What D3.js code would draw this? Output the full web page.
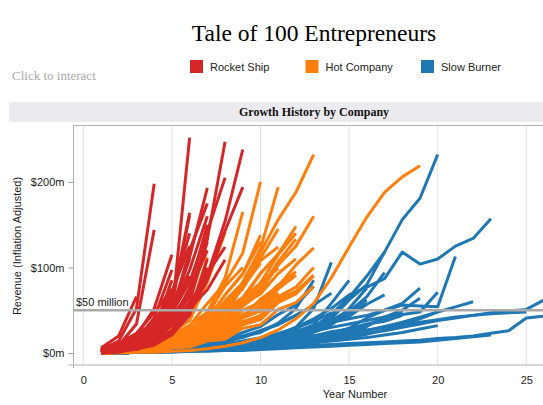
<!DOCTYPE html>
<html lang="en">
<head>
<meta charset="utf-8">
<title>Tale of 100 Entrepreneurs</title>
<script src="https://d3js.org/d3.v7.min.js"></script>
<style>
  body { margin: 0; background: #ffffff; }
  svg { display: block; }
  .title { font-family: "Liberation Serif", serif; font-size: 23.5px; fill: #000; }
  .hint { font-family: "Liberation Serif", serif; font-size: 13px; fill: #aaaaaa; }
  .legend { font-family: "Liberation Sans", Arial, sans-serif; font-size: 11px; fill: #222; }
  .header { font-family: "Liberation Serif", serif; font-size: 12px; font-weight: bold; fill: #111; }
  .tick text { font-family: "Liberation Sans", Arial, sans-serif; font-size: 11px; fill: #222; }
  .axis-title { font-family: "Liberation Sans", Arial, sans-serif; font-size: 11px; fill: #222; }
  .company { fill: none; stroke-width: 3; stroke-linejoin: round; }
</style>
</head>
<body>
<script>
// categories and legend
const categories = ['Rocket Ship', 'Hot Company', 'Slow Burner'];
const categoryColors = ['#d62728', '#ff7f0e', '#1f77b4'];

// revenue ($m, inflation adjusted) per company, one value per year starting at year 1
const rocketShip = [
  [6,20,66],
  [4,14,52,198],
  [3,9,34,144],
  [2,9,20,52,115],
  [1,7,15,41,97],
  [3,5,14,28,85],
  [1,4,7,19,46,252],
  [0,3,11,22,61,164],
  [1,5,10,29,52,112,193],
  [0,2,7,13,36,76,150],
  [1,3,8,15,36,66,133,247],
  [0,2,5,13,23,52,91,154,238],
  [0,3,4,11,21,47,86,143,194],
  [2,7,13,32,57,161],
  [1,3,9,17,37,58,93,124],
  [0,2,6,15,26,52,74,109],
  [3,11,23,47,75],
  [2,6,18,30,61],
  [0,4,13,23,49,90],
  [1,6,13,30,53,110],
  [0,3,10,18,42,72,120],
  [2,6,16,28,53,97,160],
  [1,5,10,25,40,72],
  [0,2,8,15,32,53,100],
  [3,8,21,36,72,125],
  [1,3,10,19,40,66,135],
  [0,1,5,9,22,44,110],
  [2,5,13,24,47,83,142,205],
  [1,4,11,19,37,54,85],
  [0,2,6,15,25,60,130],
  [4,10,21,33,67,140],
  [1,3,9,19,47,120,175]
];

const hotCompany = [
  [0,1,3,7,11,25,43,82,117,200],
  [0,1,2,5,11,17,32,48,83,122,194],
  [0,1,3,6,11,17,31,46,77,118,156,188,232],
  [1,2,5,11,17,32,48,88,165],
  [0,1,3,7,10,20,28,48,63,93,116,148],
  [0,1,2,4,9,13,26,36,58,75,107,133],
  [0,1,2,5,6,13,19,32,42,63,78,103,123],
  [1,2,4,9,13,26,36,61,82,108,124],
  [1,3,7,11,24,38,83,141],
  [0,2,4,9,14,28,40,68,92,138],
  [0,1,2,4,9,12,22,28,45,52,75,91],
  [0,1,2,3,7,9,18,22,37,43,63,72,91],
  [0,1,3,7,10,20,26,45,57,82,99],
  [1,3,8,13,28,47,112],
  [0,0,1,1,2,3,5,8,12,18,27,40,58,88,124,159,188,206,219],
  [0,1,3,7,11,22,32,58,82,118],
  [1,2,4,9,13,24,33,58,77,105],
  [0,1,2,5,10,14,27,38,63,82,115,140],
  [0,1,2,4,8,10,19,24,41,49,70],
  [0,2,5,11,17,32,45,78,100],
  [1,3,7,10,22,32,58,82],
  [0,1,3,6,11,15,27,36,58,69,93,110],
  [0,1,2,3,6,8,16,20,36,44,66,77,100],
  [0,1,2,5,10,14,26,34,55,70],
  [1,2,4,8,11,22,30,51,65,93,115],
  [0,1,3,5,10,13,24,31,50,59,80],
  [0,2,4,9,13,26,38,68,93,130],
  [0,1,2,4,7,9,17,20,35,41,61,72],
  [1,2,4,8,10,20,26,45,60],
  [0,1,2,3,6,7,14,16,29,33,51,59,78],
  [0,1,3,7,10,21,30,55,75,111,145],
  [0,1,2,4,9,13,24,33,55,72,103,125,160],
  [1,2,3,7,9,18,24,43,55,80],
  [0,1,2,4,8,11,21,27,45,55,79,95],
  [0,1,2,4,7,8,16,19,33,39,59,69,90]
];

const slowBurner = [
  [0,0,1,1,2,3,4,5,7,9,12,20,30,45,65,90,118,156,181,232],
  [0,1,1,2,3,4,6,8,11,15,22,30,40,52,68,77,87,118,104,110,125,134,157],
  [0,1,2,3,4,6,8,10,13,17,21,26,31,36,40,44,50,56,55,54,113],
  [0,1,1,2,3,4,5,6,8,10,12,14,16,18,20,23,26,30,34,38,41,44,47,49,51,62],
  [0,0,1,1,2,2,3,4,5,6,7,8,9,10,11,12,13,14,15,17,18,20,23,26,41,43],
  [0,1,2,3,4,5,6,7,9,11,13,15,18,21,24,27,30,33,36,39,42,44,46,47,48],
  [0,1,2,2,3,5,6,9,12,14,21,30,52,106],
  [0,0,1,2,2,3,5,6,8,12,15,24,33,58,85],
  [0,1,1,2,4,4,6,7,10,12,17,21,31,40,62,80,118],
  [0,0,1,2,2,3,4,6,6,9,10,14,16,23,29,41,50,58,76],
  [0,1,1,2,3,3,5,5,7,7,10,11,15,17,25,31,42,50,64],
  [0,1,2,3,4,5,7,9,11,14,17,21,25,30,34,38,42,45,48,71],
  [0,1,2,2,3,5,5,8,9,13,15,21,25,36,43,57,68],
  [0,1,1,3,3,5,5,7,9,10,14,17,26,34,52,76],
  [0,1,2,3,4,6,7,10,11,15,18,24,31,44,66],
  [0,0,1,2,3,4,5,7,8,11,14,19,24,33,48,66,94],
  [0,1,2,3,5,7,10,13,19,24,35,52,85],
  [0,1,1,2,3,4,6,7,9,12,14,18,20,25,28,34,37,44],
  [0,0,1,1,2,2,3,4,5,6,8,10,12,15,18,22,27,33,40,48],
  [0,1,2,4,5,8,10,15,18,26,33,44,55],
  [0,1,2,3,5,8,12,16,24,31,45,56,78],
  [0,0,1,1,2,3,4,5,6,8,10,12,15,18,22,26,31,36,42,48,54,60],
  [0,1,1,2,3,4,5,7,9,11,14,18,22],
  [0,0,1,1,2,3,4,5,6,8,10,12,15,19,24,30],
  [0,1,1,2,3,4,5,6,8,10,12,15,18,22,27,33,40,48],
  [0,1,2,3,4,5,7,9,12,15,19,24,30,38,47,58],
  [0,1,2,3,4,6,8,11,14,18,23,29,37,47],
  [0,1,2,4,6,8,11,15,20,26,34,44,56,70],
  [0,0,1,1,1,2,2,3,3,4,5,6,7,8,9,10,11,12,13,15,17,19,21],
  [0,1,1,2,2,3,4,5,6,7,9,10,12,14,16,18,21,24,28,32],
  [0,0,1,2,3,4,5,6,7,9,11,13,16],
  [0,1,1,2,4,5,7,9,12,15,20,24,31,38,50,62],
  [0,0,1,2,3,4,6,8,10,13,17,22,28,36,50]
];

// axis ticks
const yearTicks = [0, 5, 10, 15, 20, 25];
const revenueTicks = [0, 100, 200];
const revenueTickLabels = ['$0m', '$100m', '$200m'];
const referenceValue = [50];
const referenceLabel = ['$50 million'];

// layout
const width = 543;
const height = 405;
const plot = { left: 73.5, right: 543, top: 125.5, bottom: 365 };

const svg = d3.select('body')
  .append('svg')
  .attr('width', width)
  .attr('height', height);

// scales
const x = d3.scaleLinear().domain([0, 25]).range([83.3, 526.3]);
const y = d3.scaleLinear().domain([0, 200]).range([353, 182]);
const color = d3.scaleOrdinal().domain(categories).range(categoryColors);

// title and legend
svg.append('text')
  .attr('class', 'title')
  .attr('x', 314)
  .attr('y', 41)
  .attr('text-anchor', 'middle')
  .text('Tale of 100 Entrepreneurs');

svg.append('text')
  .attr('class', 'hint')
  .attr('x', 12)
  .attr('y', 80)
  .text('Click to interact');

const legendX = [190, 305.5, 421];
const legend = svg.append('g')
  .selectAll('g')
  .data(categories)
  .enter()
  .append('g')
  .attr('transform', (d, i) => 'translate(' + legendX[i] + ',60)');

legend.append('rect')
  .attr('width', 13)
  .attr('height', 13)
  .attr('fill', d => color(d));

legend.append('text')
  .attr('class', 'legend')
  .attr('x', 20)
  .attr('y', 11)
  .text(d => d);

// header band
svg.append('rect')
  .attr('x', 9)
  .attr('y', 102)
  .attr('width', width - 9)
  .attr('height', 20)
  .attr('fill', '#ebebef');

svg.append('text')
  .attr('class', 'header')
  .attr('x', 314)
  .attr('y', 116)
  .attr('text-anchor', 'middle')
  .text('Growth History by Company');

// gridlines
svg.append('g')
  .selectAll('line')
  .data(yearTicks)
  .enter()
  .append('line')
  .attr('x1', d => x(d))
  .attr('x2', d => x(d))
  .attr('y1', plot.top)
  .attr('y2', plot.bottom)
  .attr('stroke', '#e2e2e2')
  .attr('stroke-width', 1);

// company lines
svg.append('clipPath')
  .attr('id', 'plotClip')
  .append('rect')
  .attr('x', plot.left)
  .attr('y', plot.top)
  .attr('width', plot.right - plot.left)
  .attr('height', plot.bottom - plot.top);

const line = d3.line()
  .x((d, i) => x(i + 1))
  .y(d => y(d));

// drawing order: slow burners underneath, rocket ships on top
const groups = [
  { name: 'Slow Burner', data: slowBurner },
  { name: 'Hot Company', data: hotCompany },
  { name: 'Rocket Ship', data: rocketShip }
];

const lines = svg.append('g').attr('clip-path', 'url(#plotClip)');

groups.forEach(g => {
  lines.append('g')
    .selectAll('path')
    .data(g.data)
    .enter()
    .append('path')
    .attr('class', 'company')
    .attr('stroke', color(g.name))
    .attr('d', line);
});

// reference line
svg.append('g')
  .selectAll('line')
  .data(referenceValue)
  .enter()
  .append('line')
  .attr('x1', plot.left)
  .attr('x2', plot.right)
  .attr('y1', d => y(d))
  .attr('y2', d => y(d))
  .attr('stroke', '#aaaaaa')
  .attr('stroke-width', 2.5);

svg.append('text')
  .attr('class', 'axis-title')
  .attr('x', 76)
  .attr('y', y(referenceValue[0]) - 4)
  .text(referenceLabel[0]);

// frame
svg.append('line')
  .attr('x1', plot.left).attr('x2', plot.right)
  .attr('y1', plot.top).attr('y2', plot.top)
  .attr('stroke', '#b0b0b0');

// y axis
const yAxis = d3.axisLeft(y)
  .tickValues(revenueTicks)
  .tickFormat((d, i) => revenueTickLabels[i])
  .tickSize(5)
  .tickPadding(4);

const yAxisG = svg.append('g')
  .attr('transform', 'translate(' + plot.left + ',0)')
  .call(yAxis);
yAxisG.select('.domain').remove();
yAxisG.selectAll('.tick line').attr('stroke', '#999');

svg.append('line')
  .attr('x1', plot.left).attr('x2', plot.left)
  .attr('y1', plot.top).attr('y2', plot.bottom + 3)
  .attr('stroke', '#b0b0b0');

// x axis
const xAxis = d3.axisBottom(x)
  .tickValues(yearTicks)
  .tickFormat(d3.format('d'))
  .tickSize(0)
  .tickPadding(11);

const xAxisG = svg.append('g')
  .attr('transform', 'translate(0,' + plot.bottom + ')')
  .call(xAxis);
xAxisG.select('.domain').remove();

svg.append('line')
  .attr('x1', plot.left - 5).attr('x2', plot.right)
  .attr('y1', plot.bottom).attr('y2', plot.bottom)
  .attr('stroke', '#b0b0b0');

// axis titles
svg.append('text')
  .attr('class', 'axis-title')
  .attr('x', 355)
  .attr('y', 398)
  .attr('text-anchor', 'middle')
  .text('Year Number');

svg.append('text')
  .attr('class', 'axis-title')
  .attr('transform', 'translate(21,246) rotate(-90)')
  .attr('text-anchor', 'middle')
  .text('Revenue (Inflation Adjusted)');
</script>
</body>
</html>
